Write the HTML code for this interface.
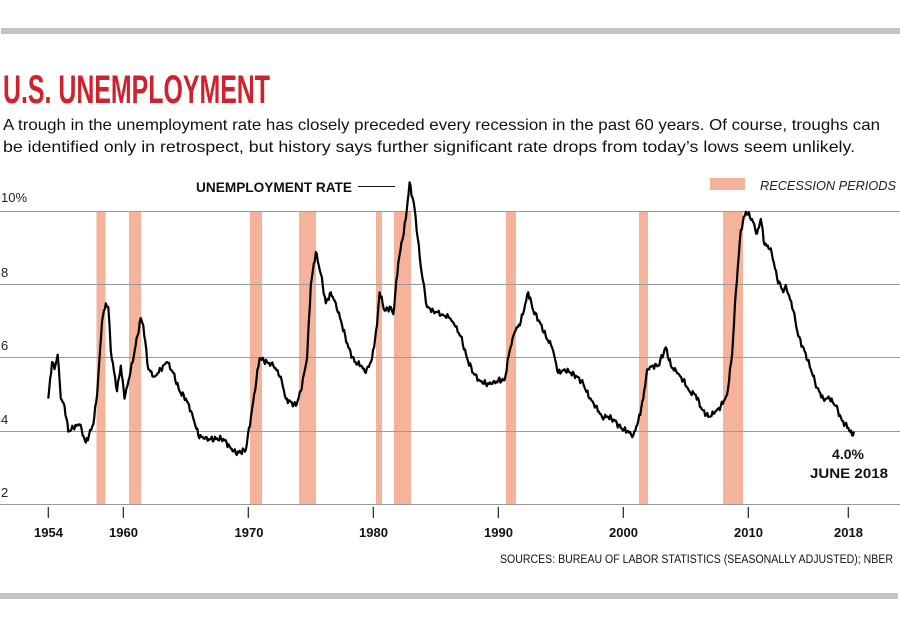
<!DOCTYPE html>
<html><head><meta charset="utf-8"><style>
html,body{margin:0;padding:0;background:#fff;}
svg{display:block;}
text{font-family:"Liberation Sans",sans-serif;}
</style></head><body>
<svg id="s" width="900" height="633" viewBox="0 0 900 633" xmlns="http://www.w3.org/2000/svg">
<rect x="0" y="0" width="900" height="633" fill="#fff"/>
<rect x="1" y="28" width="899" height="6" fill="#c4c4c4"/>
<rect x="0" y="593" width="898" height="6" fill="#c4c4c4"/>
<text x="3" y="103" font-size="40" font-weight="bold" fill="#d0222e" textLength="267" lengthAdjust="spacingAndGlyphs">U.S. UNEMPLOYMENT</text>
<text x="3" y="130" font-size="16" fill="#111" textLength="877" lengthAdjust="spacingAndGlyphs">A trough in the unemployment rate has closely preceded every recession in the past 60 years. Of course, troughs can</text>
<text x="3" y="152" font-size="16" fill="#111" textLength="852" lengthAdjust="spacingAndGlyphs">be identified only in retrospect, but history says further significant rate drops from today’s lows seem unlikely.</text>
<g fill="#f5b39b">
<rect x="96.5" y="211" width="9" height="293"/>
<rect x="129" y="211" width="12" height="293"/>
<rect x="250" y="211" width="12" height="293"/>
<rect x="299" y="211" width="17" height="293"/>
<rect x="376" y="211" width="6" height="293"/>
<rect x="394" y="211" width="17" height="293"/>
<rect x="506" y="211" width="10" height="293"/>
<rect x="639" y="211" width="9" height="293"/>
<rect x="723" y="211" width="20" height="293"/>
</g>
<g stroke="#9a9a9a" stroke-width="1">
<line x1="0" y1="211.5" x2="900" y2="211.5"/>
<line x1="0" y1="284.5" x2="900" y2="284.5"/>
<line x1="0" y1="357.5" x2="900" y2="357.5"/>
<line x1="0" y1="431.5" x2="900" y2="431.5"/>
<line x1="0" y1="504.5" x2="900" y2="504.5"/>
</g>
<g font-size="13" fill="#222">
<text x="1" y="202">10%</text>
<text x="1" y="277">8</text>
<text x="1" y="350">6</text>
<text x="1" y="424">4</text>
<text x="1" y="497">2</text>
</g>
<g id="ticks" stroke="#222" stroke-width="1.2"></g>
<g font-size="13" font-weight="bold" fill="#111" text-anchor="middle">
<text x="48.5" y="537">1954</text>
<text x="123.5" y="537">1960</text>
<text x="249" y="537">1970</text>
<text x="373.5" y="537">1980</text>
<text x="498.5" y="537">1990</text>
<text x="623.5" y="537">2000</text>
<text x="748.5" y="537">2010</text>
<text x="848.5" y="537">2018</text>
</g>
<path id="line" fill="none" stroke="#000" stroke-width="2.2" stroke-linejoin="round"/>
<text x="196" y="192" font-size="14" font-weight="bold" fill="#111" textLength="156" lengthAdjust="spacingAndGlyphs">UNEMPLOYMENT RATE</text>
<line x1="358" y1="186.5" x2="395" y2="186.5" stroke="#111" stroke-width="1"/>
<rect x="710" y="178" width="35" height="12" fill="#f5b39b"/>
<text x="760" y="190" font-size="13" font-style="italic" fill="#222" textLength="136" lengthAdjust="spacingAndGlyphs">RECESSION PERIODS</text>
<text x="848" y="459" font-size="14" font-weight="bold" fill="#111" text-anchor="middle">4.0%</text>
<text x="810" y="478" font-size="14" font-weight="bold" fill="#111" textLength="78" lengthAdjust="spacingAndGlyphs">JUNE 2018</text>
<text x="500" y="563" font-size="11.5" fill="#111" textLength="393" lengthAdjust="spacingAndGlyphs">SOURCES: BUREAU OF LABOR STATISTICS (SEASONALLY ADJUSTED); NBER</text>
</svg>
<script>
var X=function(y){return 123.3+(y-1960)*12.5;};
var Y=function(v){return 211.7+(10-v)*36.65;};
var NS="http://www.w3.org/2000/svg";
var t=document.getElementById('ticks');
[1954,1960,1970,1980,1990,2000,2010,2018].forEach(function(y){var e=document.createElementNS(NS,'line');var x=X(y);e.setAttribute('x1',x);e.setAttribute('x2',x);e.setAttribute('y1',507);e.setAttribute('y2',518);t.appendChild(e);});
var p=[[1954.0,4.9],[1954.3,5.9],[1954.5,5.7],[1954.75,6.1],[1955.0,4.9],[1955.3,4.7],[1955.6,4.0],[1956,4.1],[1956.5,4.2],[1957,3.7],[1957.6,4.2],[1957.9,5.0],[1958.3,7.0],[1958.6,7.5],[1958.8,7.4],[1959.0,6.2],[1959.5,5.1],[1959.8,5.8],[1960.1,4.9],[1960.5,5.5],[1960.9,6.2],[1961.4,7.1],[1961.6,6.9],[1962.0,5.7],[1962.5,5.5],[1963.0,5.7],[1963.5,5.9],[1964.0,5.6],[1964.5,5.1],[1965,4.9],[1965.5,4.5],[1966.0,3.9],[1966.5,3.8],[1967,3.8],[1968.0,3.8],[1968.5,3.6],[1969.0,3.4],[1969.8,3.5],[1970.3,4.6],[1970.9,6.0],[1971.5,5.9],[1972,5.8],[1972.6,5.5],[1973.0,4.9],[1973.8,4.7],[1974.2,5.1],[1974.7,6.0],[1975.0,8.0],[1975.4,8.9],[1975.8,8.3],[1976.2,7.5],[1976.6,7.8],[1977.0,7.5],[1977.5,6.9],[1978.0,6.3],[1978.5,5.9],[1979.0,5.8],[1979.4,5.6],[1979.9,6.0],[1980.3,6.9],[1980.5,7.8],[1980.9,7.3],[1981.4,7.4],[1981.6,7.2],[1982.0,8.6],[1982.6,9.8],[1982.9,10.8],[1983.3,10.1],[1983.8,8.5],[1984.3,7.4],[1984.8,7.3],[1985.5,7.2],[1986.1,7.1],[1986.5,6.9],[1987.0,6.6],[1987.5,6.0],[1988.0,5.6],[1988.5,5.4],[1989.0,5.3],[1989.5,5.3],[1990.0,5.4],[1990.5,5.4],[1990.9,6.2],[1991.3,6.7],[1991.8,7.0],[1992.4,7.8],[1992.8,7.3],[1993.3,7.0],[1993.8,6.6],[1994.3,6.3],[1994.8,5.6],[1995.3,5.7],[1995.8,5.6],[1996.3,5.5],[1996.8,5.3],[1997.3,4.9],[1997.8,4.7],[1998.3,4.4],[1998.8,4.4],[1999.3,4.3],[1999.8,4.1],[2000.3,4.0],[2000.8,3.9],[2001.2,4.3],[2001.6,4.9],[2001.9,5.7],[2002.3,5.8],[2002.8,5.8],[2003.4,6.3],[2003.8,5.8],[2004.3,5.6],[2004.8,5.4],[2005.3,5.1],[2005.8,5.0],[2006.3,4.6],[2006.8,4.4],[2007.3,4.5],[2007.8,4.7],[2008.3,5.0],[2008.7,6.1],[2009.0,7.8],[2009.4,9.5],[2009.8,10.0],[2010.3,9.8],[2010.7,9.4],[2011.0,9.8],[2011.3,9.1],[2011.8,9.0],[2012.3,8.2],[2012.8,7.8],[2013.0,8.0],[2013.6,7.3],[2014.0,6.6],[2014.5,6.2],[2015.0,5.7],[2015.5,5.2],[2016.0,4.9],[2016.5,4.9],[2017.0,4.7],[2017.5,4.3],[2018.0,4.1],[2018.3,3.9],[2018.45,4.0]];
var d='',k=0;
for(var i=0;i<p.length-1;i++){var a=p[i],b=p[i+1];var n=Math.max(1,Math.round((b[0]-a[0])*12));for(var j=0;j<n;j++){var f=j/n;var yr=a[0]+(b[0]-a[0])*f;var v=a[1]+(b[1]-a[1])*f;if(j>0)v+=0.09*Math.sin(k*2.7)*Math.cos(k*1.3);k++;d+=(d?'L':'M')+X(yr).toFixed(1)+' '+Y(v).toFixed(1);}}
var l=p[p.length-1];d+='L'+X(l[0]).toFixed(1)+' '+Y(l[1]).toFixed(1);
document.getElementById('line').setAttribute('d',d);
</script>
</body></html>
